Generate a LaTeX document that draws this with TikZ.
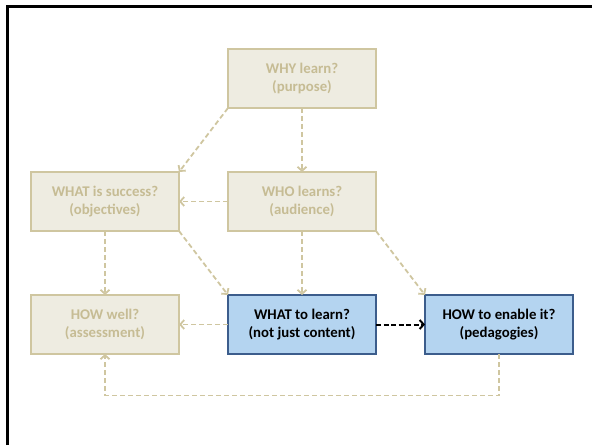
\documentclass[tikz,border=0pt]{standalone}
\usepackage{fontspec}
\setmainfont{Carlito}
\usetikzlibrary{positioning,arrows.meta}

\definecolor{tanfill}{HTML}{EEECE1}
\definecolor{tanline}{HTML}{CFC6A0}
\definecolor{tantext}{HTML}{C6BC94}
\definecolor{bluefill}{HTML}{B4D4F0}
\definecolor{blueline}{HTML}{3C5D8C}

\begin{document}
\begin{tikzpicture}[x=1pt, y=1pt, node distance=64pt and 49pt,
    q/.style={rectangle, draw=tanline, fill=tanfill, text=tantext, line width=1.8pt,
      outer sep=0pt, minimum width=148pt, minimum height=59pt, align=center,
      font=\bfseries\fontsize{14.8}{18}\selectfont},
    hot/.style={q, draw=blueline, fill=bluefill, text=black},
    link/.style={draw=tanline, line width=1.8pt, dash pattern=on 5pt off 3pt,
      -{Straight Barb[length=4pt,width=9pt]}}]
    \useasboundingbox (0,0) rectangle (592,445);
    \draw[line width=2.5pt] (7.5,0) -- (7.5,438.5) -- (592,438.5);

    \node[q] (why) at (302,366.5) {WHY learn?\\(purpose)};
    \node[q, below=of why] (who) {WHO learns?\\(audience)};
    \node[q, left=of who] (success) {WHAT is success?\\(objectives)};
    \node[hot, below=of who] (what) {WHAT to learn?\\(not just content)};
    \node[q, left=of what] (howwell) {HOW well?\\(assessment)};
    \node[hot, right=of what] (enable) {HOW to enable it?\\(pedagogies)};
    \coordinate (base) at (0,49.5);

    \draw[link] (why.south west) -- (success.north east);
    \draw[link] (why) -- (who);
    \draw[link] (who) -- (success);
    \draw[link] (success) -- (howwell);
    \draw[link] (success.south east) -- (what.north west);
    \draw[link] (who) -- (what);
    \draw[link] (who.south east) -- (enable.north west);
    \draw[link] (what) -- (howwell);
    \draw[link, draw=black, line width=2pt, dash pattern=on 5pt off 2.5pt] (what) -- (enable);
    \draw[link] (enable.south) -- (enable.south |- base) -| (howwell.south);
\end{tikzpicture}
\end{document}
